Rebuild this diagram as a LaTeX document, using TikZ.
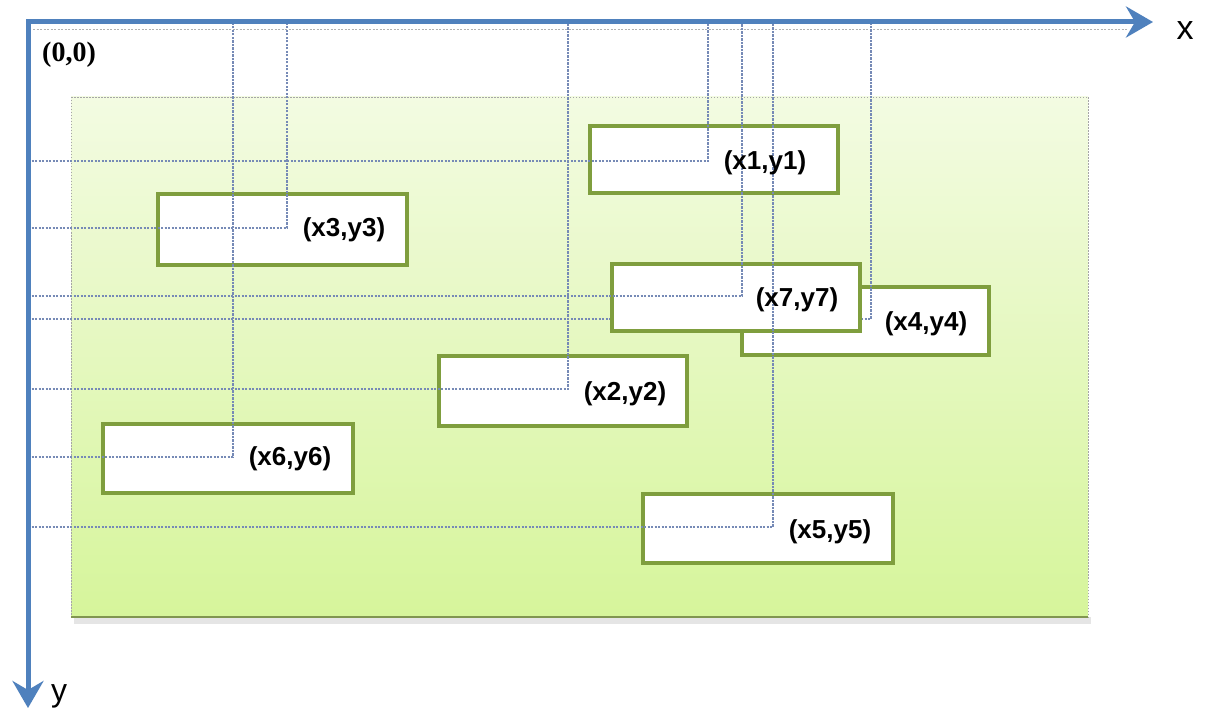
\documentclass[tikz,border=0pt]{standalone}
\usepackage{fontspec}
\setmainfont{Liberation Sans}
\newfontfamily\serifb{Liberation Serif}
\usetikzlibrary{arrows.meta}
\definecolor{axisblue}{RGB}{79,129,189}
\definecolor{guideblue}{RGB}{118,138,182}
\definecolor{boxgreen}{RGB}{127,158,62}
\definecolor{paneltop}{RGB}{243,251,226}
\definecolor{panelbot}{RGB}{214,245,155}
\definecolor{paneledge}{RGB}{128,150,80}
\begin{document}
\begin{tikzpicture}[x=1pt,y=-1pt,
  box/.style={draw=boxgreen, line width=3.5pt, fill=white, inner sep=0pt, outer sep=0pt, anchor=north west},
  lbl/.style={font=\bfseries\fontsize{26}{30}\selectfont, inner sep=0pt},
  guide/.style={draw=guideblue, line width=1.2pt, dash pattern=on 2.2pt off 1.3pt},
  axis/.style={draw=axisblue, line width=5pt, line join=miter,
    {Stealth[length=27pt,width=31pt,inset=9pt]}-{Stealth[length=27pt,width=31pt,inset=9pt]}}
]
\useasboundingbox (0,0) rectangle (1209,711);
\fill[white] (0,0) rectangle (1209,711);

% panel
\coordinate (P1) at (71,97);
\coordinate (P2) at (1088,617);
\coordinate (S1) at (74,617);
\coordinate (S2) at (1091,624);
\fill[black, opacity=0.10] (S1) rectangle (S2);
\shade[top color=paneltop, bottom color=panelbot] (P1) rectangle (P2);
\draw[gray!70, line width=0.8pt, dash pattern=on 1.5pt off 1.5pt] (P1) rectangle (P2);
\draw[paneledge, line width=2.5pt] (P1 |- P2) -- (P2);

% origin and axis points
\coordinate (O) at (28,22);
\coordinate (XE) at (1153,22);
\coordinate (YE) at (28,708);
\coordinate (D1) at (33,30);
\coordinate (D2) at (1128,30);
\draw[gray!60, line width=1pt, dash pattern=on 2pt off 1.5pt] (D1) -- (D2);

% corner points
\coordinate (c1) at (708,161);
\coordinate (c2) at (568,389);
\coordinate (c3) at (287,228);
\coordinate (c4) at (871,319);
\coordinate (c5) at (773,527);
\coordinate (c6) at (233,457);
\coordinate (c7) at (742,296);

% boxes (first layer)
\node[box, minimum width=248pt, minimum height=67pt] (b1) at (590,126) {};
\node[box, minimum width=248pt, minimum height=70pt] (b2) at (439,356) {};
\node[box, minimum width=249pt, minimum height=71pt] (b3) at (158,194) {};
\node[box, minimum width=247pt, minimum height=68pt] (b4) at (742,287) {};
\node[box, minimum width=250pt, minimum height=69pt] (b6) at (103,424) {};
\node[box, minimum width=250pt, minimum height=69pt] (b5) at (643,494) {};

% guides under box 7
\draw[guide] (c1 -| O) -- (c1) -- (c1 |- O);
\draw[guide] (c2 -| O) -- (c2) -- (c2 |- O);
\draw[guide] (c3 -| O) -- (c3) -- (c3 |- O);
\draw[guide] (c4 -| O) -- (c4) -- (c4 |- O);
\draw[guide] (c6 -| O) -- (c6) -- (c6 |- O);

\node[box, minimum width=248pt, minimum height=67pt] (b7) at (612,264) {};

\draw[guide] (c7 -| O) -- (c7) -- (c7 |- O);
\draw[guide] (c5 -| O) -- (c5) -- (c5 |- O);

% labels
\node[lbl] (l1) at (765,163) {(x1,y1)};
\node[lbl] (l2) at (625,394) {(x2,y2)};
\node[lbl] (l3) at (344,230) {(x3,y3)};
\node[lbl] (l4) at (926,324) {(x4,y4)};
\node[lbl] (l5) at (830,532) {(x5,y5)};
\node[lbl] (l6) at (290,459) {(x6,y6)};
\node[lbl] (l7) at (797,300) {(x7,y7)};

% axes
\draw[axis] (XE) -- (O) -- (YE);
\node[font=\fontsize{34}{38}\selectfont, anchor=base, inner sep=0pt] (xl) at (1185,40) {x};
\node[font=\fontsize{32}{36}\selectfont, anchor=base west, inner sep=0pt] (yl) at (51,701) {y};
\node[font=\serifb\bfseries\fontsize{28}{32}\selectfont, inner sep=0pt] (ol) at (69,55) {(0,0)};
\end{tikzpicture}
\end{document}
